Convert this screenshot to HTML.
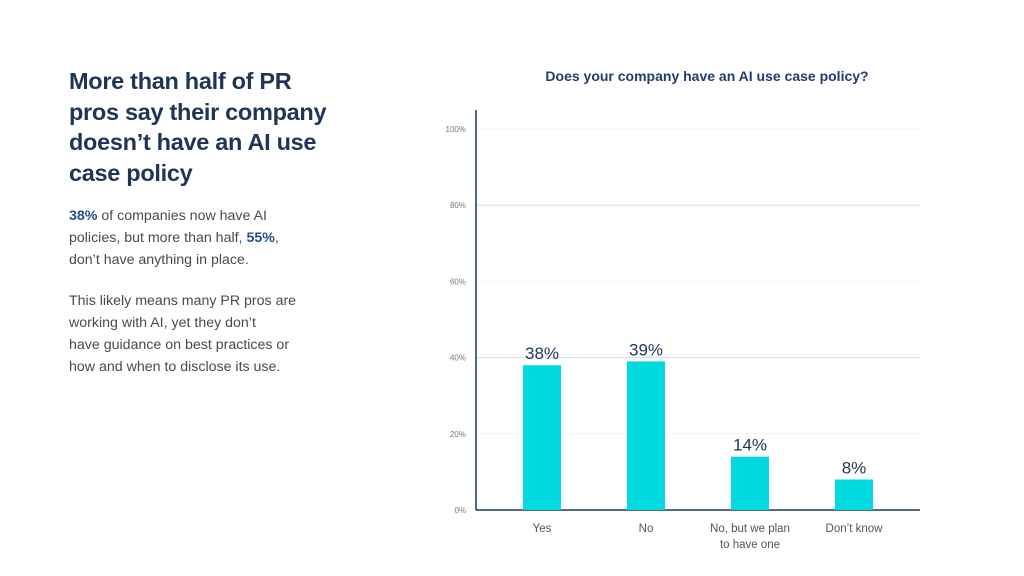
<!DOCTYPE html>
<html><head><meta charset="utf-8"><style>
body{margin:0;width:1024px;height:576px;background:#fff;font-family:"Liberation Sans",sans-serif;position:relative;overflow:hidden}
#head{position:absolute;left:69px;top:66px;width:300px;font-size:23.5px;font-weight:bold;line-height:30.5px;color:#1e3557;margin:0;letter-spacing:-0.3px;white-space:nowrap}
.p{position:absolute;left:69px;width:300px;font-size:14.2px;line-height:22px;color:#4a4a4a;margin:0;white-space:nowrap}
.p b{color:#1f4e8c}
</style></head><body>
<h1 id="head">More than half of PR<br>pros say their company<br>doesn’t have an AI use<br>case policy</h1>
<p class="p" style="top:205px"><b>38%</b> of companies now have AI<br>policies, but more than half, <b>55%</b>,<br>don’t have anything in place.</p>
<p class="p" style="top:290px">This likely means many PR pros are<br>working with AI, yet they don’t<br>have guidance on best practices or<br>how and when to disclose its use.</p>
<svg id="chart" width="1024" height="576" style="position:absolute;left:0;top:0">
<text x="707" y="81" text-anchor="middle" font-size="14" font-weight="bold" fill="#1f3d6e" font-family="Liberation Sans, sans-serif">Does your company have an AI use case policy?</text>
</svg>
<script>
const categories=[["Yes"],["No"],["No, but we plan","to have one"],["Don’t know"]];
const values=[38,39,14,8];
const valueLabels=["38%","39%","14%","8%"];
const ticks=[0,20,40,60,80,100];
const tickLabels=["0%","20%","40%","60%","80%","100%"];
const svg=document.getElementById('chart');
const NS='http://www.w3.org/2000/svg';
const y=v=>510-v*3.81;
const x=i=>542+i*104;
function mk(t,a){const e=document.createElementNS(NS,t);for(const k in a)e.setAttribute(k,a[k]);svg.appendChild(e);return e;}
ticks.forEach((t,i)=>{
  if(t>0){const g=mk('line',{x1:476,x2:920,y1:y(t),y2:y(t),stroke:i%2?'#f0f2f4':'#d5dde6','stroke-width':1});
  
  }
  const l=mk('text',{x:466,y:y(t)+3,'text-anchor':'end','font-size':8,fill:'#777','font-family':'Liberation Sans, sans-serif'});
  l.textContent=tickLabels[i];
  
  
});
const ax=mk('line',{x1:476,x2:476,y1:110,y2:510,stroke:'#1e3557','stroke-width':1.5});


const bx=mk('line',{x1:476,x2:920,y1:510,y2:510,stroke:'#1e3557','stroke-width':1.5});


values.forEach((v,i)=>{
  const r=mk('rect',{x:x(i)-19,y:y(v),width:38,height:510-y(v),fill:'#00d9e0'});
  
  
  const t=mk('text',{x:x(i),y:y(v)-6,'text-anchor':'middle','font-size':17,fill:'#1e3557','font-family':'Liberation Sans, sans-serif'});
  t.textContent=valueLabels[i];
  
  
  categories[i].forEach((ln,j)=>{
    const c=mk('text',{x:x(i),y:532+j*16,'text-anchor':'middle','font-size':11.5,fill:'#555','font-family':'Liberation Sans, sans-serif'});
    c.textContent=ln;
    
    
  });
});
</script>
</body></html>
